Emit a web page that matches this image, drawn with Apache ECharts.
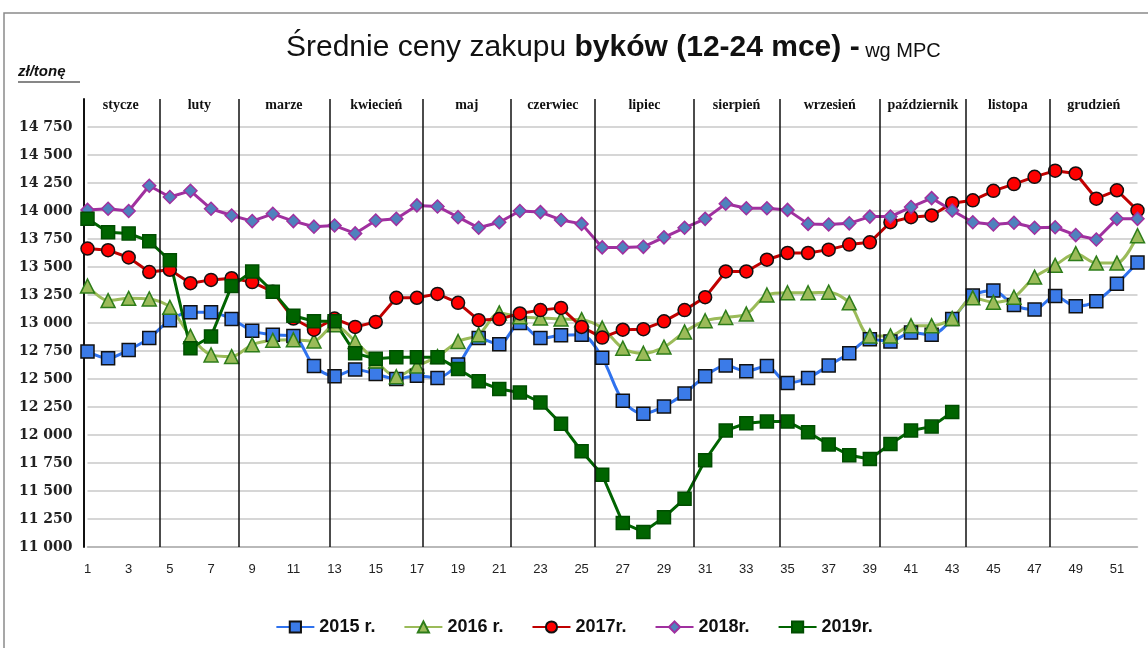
<!DOCTYPE html>
<html>
<head>
<meta charset="utf-8">
<script src="https://cdn.jsdelivr.net/npm/echarts@6/dist/echarts.min.js"></script>
<style>
html,body{margin:0;padding:0;background:#fff;}
#c{width:1148px;height:648px;}
</style>
</head>
<body>
<div id="c"></div>
<script>
const weeks = Array.from({length: 52}, (_, i) => String(i + 1));
const s2015 = [12745,12685,12760,12865,13025,13095,13095,13035,12930,12895,12885,12615,12525,12585,12545,12500,12530,12510,12630,12865,12810,13000,12865,12890,12895,12690,12305,12190,12255,12370,12525,12620,12570,12615,12465,12510,12620,12730,12855,12835,12915,12895,13035,13245,13290,13160,13120,13240,13150,13195,13350,13540];
const s2016 = [13330,13200,13220,13215,13140,12880,12715,12700,12805,12845,12850,12840,12985,12835,12660,12520,12615,12700,12835,12895,13090,13055,13045,13035,13030,12955,12775,12730,12785,12920,13020,13050,13080,13250,13270,13270,13275,13180,12885,12885,12975,12975,13040,13225,13185,13230,13410,13515,13620,13535,13535,13780];
const s2017 = [13665,13650,13585,13455,13475,13355,13385,13400,13365,13280,13040,12940,13040,12965,13010,13225,13225,13260,13180,13025,13035,13085,13115,13135,12965,12870,12940,12945,13015,13115,13230,13460,13460,13565,13625,13625,13655,13700,13720,13900,13945,13960,14070,14095,14180,14240,14305,14360,14335,14110,14185,14005];
const s2018 = [14010,14020,14000,14225,14125,14180,14020,13960,13910,13975,13910,13860,13870,13800,13915,13930,14050,14040,13945,13850,13900,14000,13990,13920,13885,13675,13675,13680,13765,13850,13930,14065,14025,14025,14010,13885,13880,13890,13950,13950,14035,14115,14005,13900,13880,13895,13850,13855,13785,13745,13930,13930];
const s2019 = [13930,13810,13800,13730,13560,12775,12880,13330,13460,13280,13065,13015,13015,12730,12680,12695,12695,12695,12590,12480,12410,12380,12290,12100,11855,11645,11215,11135,11265,11430,11775,12040,12105,12120,12120,12025,11915,11820,11785,11920,12040,12075,12205,null,null,null,null,null,null,null,null,null];
const months = ['stycze','luty','marze','kwiecień','maj','czerwiec','lipiec','sierpień','wrzesień','październik','listopa','grudzień'];
// month boundaries in week units
const monthBounds = [0.7, 4.53, 8.33, 12.75, 17.3, 21.55, 25.65, 30.45, 34.6, 39.5, 43.65, 47.75, 52];
const yTicksMax = 15000;

const fmt = v => String(v).replace(/\B(?=(\d{3})+(?!\d))/g, ' ');
const splitColors = [];
for (let v = 11000; v <= yTicksMax; v += 250) splitColors.push(v === yTicksMax ? 'rgba(0,0,0,0)' : '#c9c9c9');

const chart = echarts.init(document.getElementById('c'), null, {renderer: 'canvas'});

function lineSeries(name, data, lineColor, symbol, size, fill, border, smooth) {
  return {
    name, type: 'line', data, smooth: smooth, connectNulls: false,
    symbol, symbolSize: size, showAllSymbol: true,
    lineStyle: {color: lineColor, width: 3},
    itemStyle: {color: fill, borderColor: border, borderWidth: 1.5},
    emphasis: {disabled: true}, z: 3
  };
}

const monthLineData = monthBounds.slice(1, -1).map(w => ({xAxis: w}));
const monthPoints = months.map((m, i) => ({
  coord: [(monthBounds[i] + monthBounds[i + 1]) / 2, 14945],
  value: m
}));

const option = {
  animation: false,
  backgroundColor: '#fff',
  title: {
    text: '{a|Średnie ceny zakupu }{b|byków (12-24 mce) -}{c| wg MPC}',
    left: 281, top: 28,
    textStyle: {
      fontWeight: 'normal',
      rich: {
        a: {fontFamily: 'Liberation Sans', fontSize: 30, fontWeight: 'normal', color: '#111'},
        b: {fontFamily: 'Liberation Sans', fontSize: 30, fontWeight: 'bold', color: '#111'},
        c: {fontFamily: 'Liberation Sans', fontSize: 20, fontWeight: 'normal', color: '#111', padding: [6, 0, 0, 0]}
      }
    }
  },
  graphic: [
    {type: 'rect', shape: {x: 4, y: 13, width: 1160, height: 660}, style: {fill: 'none', stroke: '#8a8a8a', lineWidth: 1.5}, silent: true},
    {type: 'text', left: 18, top: 64, style: {text: 'zł/tonę', font: 'italic bold 15px "Liberation Sans"', fill: '#111'}},
    {type: 'line', shape: {x1: 18, y1: 82, x2: 80, y2: 82}, style: {stroke: '#111', lineWidth: 1.2}}
  ],
  legend: {
    bottom: 7, left: 'center',
    itemWidth: 38, itemHeight: 14, itemGap: 28,
    textStyle: {fontFamily: 'Liberation Sans', fontWeight: 'bold', fontSize: 18, color: '#111'},
    data: ['2015 r.', '2016 r.', '2017r.', '2018r.', '2019r.']
  },
  grid: {left: 87.5, right: 10.5, top: 99, bottom: 101, containLabel: false},
  xAxis: [
    {
      type: 'category', data: weeks, boundaryGap: false,
      axisLine: {lineStyle: {color: '#b0b0b0', width: 1.5}},
      axisTick: {show: false},
      axisLabel: {interval: 1, margin: 16, fontFamily: 'Liberation Sans', fontSize: 13, color: '#222'},
      splitLine: {show: false}
    },
    {type: 'value', min: 1, max: 52, show: false}
  ],
  yAxis: {
    type: 'value', min: 11000, max: yTicksMax, interval: 250, offset: 4,
    axisLine: {show: true, lineStyle: {color: '#111', width: 2}},
    axisTick: {show: false},
    axisLabel: {
      margin: 11, fontFamily: 'DejaVu Serif', fontWeight: 'bold', fontSize: 14, color: '#222',
      formatter: v => v === yTicksMax ? '' : fmt(v)
    },
    splitLine: {show: true, lineStyle: {color: splitColors, width: 1.5}}
  },
  series: [
    lineSeries('2015 r.', s2015, '#2f72ee', 'rect', 13, '#3b7be8', '#111', 0.3),
    lineSeries('2016 r.', s2016, '#9bbb59', 'triangle', 14, '#9bbb59', '#2e7d1a', 0.3),
    lineSeries('2017r.', s2017, '#c00000', 'circle', 13, '#ff0000', '#111', false),
    lineSeries('2018r.', s2018, '#a0309f', 'diamond', 13, '#4f81bd', '#a0309f', false),
    lineSeries('2019r.', s2019, '#006400', 'rect', 13, '#006400', '#004d00', false),
    {
      type: 'scatter', xAxisIndex: 1, data: [[1, 11000]], symbolSize: 0, silent: true,
      markLine: {
        silent: true, symbol: 'none', label: {show: false},
        lineStyle: {color: '#111', width: 1.5, type: 'solid'},
        data: monthLineData
      },
      markPoint: {
        silent: true, symbol: 'circle', symbolSize: 0,
        label: {
          show: true, position: 'inside', formatter: p => p.value,
          fontFamily: 'Liberation Serif', fontWeight: 'bold', fontSize: 14, color: '#111'
        },
        data: monthPoints
      },
      z: 1
    }
  ]
};
chart.setOption(option);
</script>
</body>
</html>
